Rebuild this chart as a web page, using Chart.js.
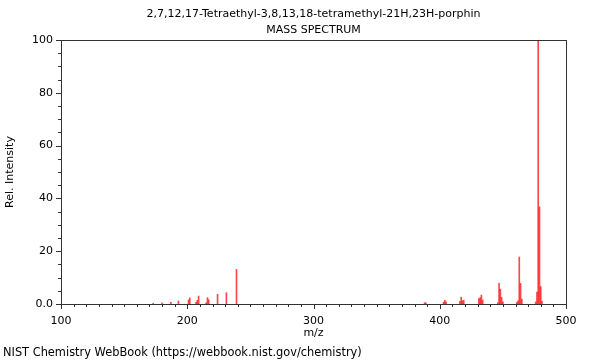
<!DOCTYPE html>
<html>
<head>
<meta charset="utf-8">
<script src="https://cdn.jsdelivr.net/npm/chart.js@4"></script>
<style>
  html, body { margin: 0; padding: 0; background: #fff; }
  #wrap { width: 600px; height: 360px; position: relative; }
</style>
</head>
<body>
<div id="wrap"><canvas id="spectrum"></canvas></div>
<script>
const chartTitle = "2,7,12,17-Tetraethyl-3,8,13,18-tetramethyl-21H,23H-porphin";
const chartSubtitle = "MASS SPECTRUM";
const xAxisTitle = "m/z";
const yAxisTitle = "Rel. Intensity";
const footerText = "NIST Chemistry WebBook (https://webbook.nist.gov/chemistry)";

// peak positions (m/z) and relative intensities
const peakMz = [
  173, 180, 187, 193, 201, 202, 207, 208, 209, 215, 216, 217, 224, 231, 239,
  388, 389, 403, 404, 405, 416, 417, 418, 419,
  431, 432, 433, 434, 446, 447, 448, 449, 450,
  461, 462, 463, 464, 465, 476, 477, 478, 479, 480, 481,
];
const peakIntensity = [
  0.3, 0.4, 0.6, 1.1, 1.5, 2.3, 0.6, 1.4, 3.0, 0.5, 2.4, 1.6, 3.7, 4.3, 13.1,
  0.5, 0.4, 0.7, 1.4, 0.8, 1.0, 2.6, 1.2, 1.4,
  2.1, 2.4, 3.4, 1.5, 0.5, 7.8, 5.6, 2.5, 0.8,
  0.6, 1.2, 17.8, 7.8, 1.8, 0.8, 4.5, 100, 36.8, 6.6, 1.0,
];

const xMajorTicks = [100, 200, 300, 400, 500];
const yMajorTicks = [0, 20, 40, 60, 80, 100];
const yTickLabels = ["0.0", "20", "40", "60", "80", "100"];

const FONT = "DejaVu Sans";
const AXIS_COLOR = "#333333";

const frame = {
  id: "frame",
  afterDraw(chart) {
    const { ctx, chartArea: a } = chart;
    const xs = chart.scales.x;
    const ys = chart.scales.y;
    ctx.save();
    ctx.strokeStyle = AXIS_COLOR;
    ctx.lineWidth = 1;
    ctx.strokeRect(Math.round(a.left) + 0.5, Math.round(a.top) + 0.5,
      Math.round(a.right - a.left), Math.round(a.bottom - a.top));

    // major and minor tick marks
    ctx.beginPath();
    for (let v = 100; v <= 500; v += 10) {
      const px = Math.round(xs.getPixelForValue(v)) + 0.5;
      const len = v % 100 === 0 ? 5 : 3;
      ctx.moveTo(px, a.bottom);
      ctx.lineTo(px, a.bottom + len);
    }
    for (let v = 0; v <= 100; v += 5) {
      const py = Math.round(ys.getPixelForValue(v)) + 0.5;
      const len = v % 20 === 0 ? 5 : 3;
      ctx.moveTo(a.left, py);
      ctx.lineTo(a.left - len, py);
    }
    ctx.stroke();

    const cx = (a.left + a.right) / 2;
    ctx.fillStyle = "#000";
    ctx.font = `11px "${FONT}"`;
    ctx.textAlign = "center";
    ctx.textBaseline = "middle";
    ctx.fillText(chartTitle, cx, 14);
    ctx.fillText(chartSubtitle, cx, 30);
    ctx.fillText(xAxisTitle, cx, 333);

    ctx.font = `11.4px "${FONT}"`;
    ctx.textAlign = "left";
    ctx.fillText(footerText, 3, 353);

    ctx.font = `11px "${FONT}"`;
    ctx.translate(10, (a.top + a.bottom) / 2);
    ctx.rotate(-Math.PI / 2);
    ctx.textAlign = "center";
    ctx.fillText(yAxisTitle, 0, 0);
    ctx.restore();
  },
};

new Chart(document.getElementById("spectrum"), {
  type: "bar",
  data: {
    datasets: [{
      data: peakMz.map((mz, i) => ({ x: mz, y: peakIntensity[i] })),
      backgroundColor: "rgba(255, 0, 0, 0.72)",
      borderWidth: 0,
      barThickness: 1,
    }],
  },
  options: {
    responsive: true,
    maintainAspectRatio: false,
    animation: false,
    layout: { padding: { top: 40, right: 34, left: 0, bottom: 0 } },
    plugins: { legend: { display: false }, tooltip: { enabled: false } },
    scales: {
      x: {
        type: "linear",
        min: 100,
        max: 500,
        offset: false,
        afterBuildTicks: (scale) => { scale.ticks = xMajorTicks.map((v) => ({ value: v })); },
        afterFit: (scale) => { scale.height = 56; },
        grid: { display: false, drawTicks: false },
        border: { display: false },
        ticks: {
          padding: 11,
          color: "#000",
          font: { family: FONT, size: 11 },
          maxRotation: 0,
          autoSkip: false,
        },
      },
      y: {
        min: 0,
        max: 100,
        afterBuildTicks: (scale) => { scale.ticks = yMajorTicks.map((v) => ({ value: v })); },
        afterFit: (scale) => { scale.width = 61; },
        grid: { display: false, drawTicks: false },
        border: { display: false },
        ticks: {
          padding: 8,
          color: "#000",
          font: { family: FONT, size: 11 },
          callback: (v) => yTickLabels[yMajorTicks.indexOf(v)],
        },
      },
    },
  },
  plugins: [frame],
});
</script>
</body>
</html>
